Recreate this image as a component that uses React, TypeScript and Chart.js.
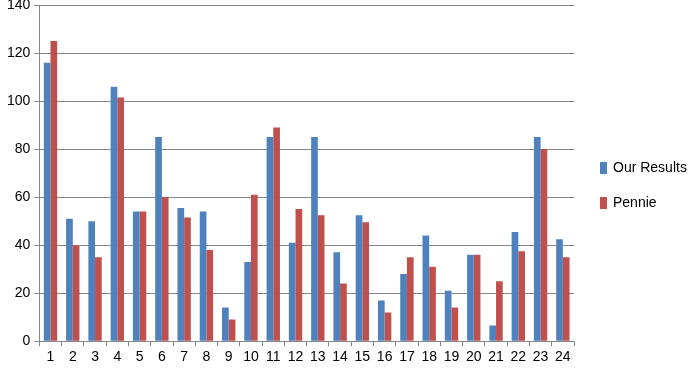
import React, { useEffect, useRef } from "react";
import { Chart, registerables } from "chart.js";

Chart.register(...registerables);

const categories = ["1","2","3","4","5","6","7","8","9","10","11","12","13","14","15","16","17","18","19","20","21","22","23","24"];
const ourResults = [116, 51, 50, 106, 54, 85, 55.5, 54, 14, 33, 85, 41, 85, 37, 52.5, 17, 28, 44, 21, 36, 6.5, 45.5, 85, 42.5];
const pennie = [125, 40, 35, 101.5, 54, 60, 51.5, 38, 9, 61, 89, 55, 52.5, 24, 49.5, 12, 35, 31, 14, 36, 25, 37.5, 80, 35];
const yTicks = [0, 20, 40, 60, 80, 100, 120, 140];

const FONT_FAMILY = "'Liberation Sans', Arial, sans-serif";

const sideLegend = {
  id: "sideLegend",
  afterDraw(chart: any) {
    const { ctx, chartArea, data } = chart;
    const x = chartArea.right + 26;
    const spacing = 35;
    const n = data.datasets.length;
    const midY = chart.height / 2;
    ctx.save();
    ctx.font = `14px ${FONT_FAMILY}`;
    ctx.textBaseline = "middle";
    ctx.textAlign = "left";
    data.datasets.forEach((ds: any, i: number) => {
      const y = midY + (i - (n - 1) / 2) * spacing;
      ctx.fillStyle = ds.backgroundColor;
      ctx.fillRect(x, y - 6, 7, 12);
      ctx.fillStyle = "#000";
      ctx.fillText(ds.label, x + 13, y);
    });
    ctx.restore();
  },
};

export default function App() {
  const ref = useRef<HTMLCanvasElement>(null);
  useEffect(() => {
    document.body.style.margin = "0";
    const font = { family: FONT_FAMILY, size: 14 };
    const chart = new Chart(ref.current!, {
      type: "bar",
      data: {
        labels: categories,
        datasets: [
          { label: "Our Results", data: ourResults, backgroundColor: "#4F81BD", categoryPercentage: 0.6, barPercentage: 1.0 },
          { label: "Pennie", data: pennie, backgroundColor: "#C0504D", categoryPercentage: 0.6, barPercentage: 1.0 },
        ],
      },
      plugins: [sideLegend],
      options: {
        animation: false,
        responsive: false,
        maintainAspectRatio: false,
        layout: { padding: { top: 5, right: 116, left: 3, bottom: 2 } },
        plugins: {
          tooltip: { enabled: false },
          legend: { display: false },
        },
        scales: {
          x: {
            offset: true,
            grid: { offset: true, drawOnChartArea: false, drawTicks: true, tickLength: 5, color: "#868686" },
            border: { color: "#868686" },
            ticks: { color: "#000", font, maxRotation: 0, autoSkip: false, padding: 3 },
          },
          y: {
            min: 0,
            max: 140,
            afterBuildTicks: (axis: any) => { axis.ticks = yTicks.map((v) => ({ value: v })); },
            afterFit: (axis: any) => { axis.paddingTop = 0; axis.paddingBottom = 0; },
            grid: { color: "#868686", drawTicks: true, tickLength: 5 },
            border: { color: "#868686" },
            ticks: { color: "#000", font, padding: 4 },
          },
        },
      },
    });
    return () => chart.destroy();
  }, []);
  return (
    <div style={{ position: "fixed", left: 0, top: 0, width: 690, height: 371, background: "#fff" }}>
      <canvas ref={ref} width={690} height={371} />
    </div>
  );
}
